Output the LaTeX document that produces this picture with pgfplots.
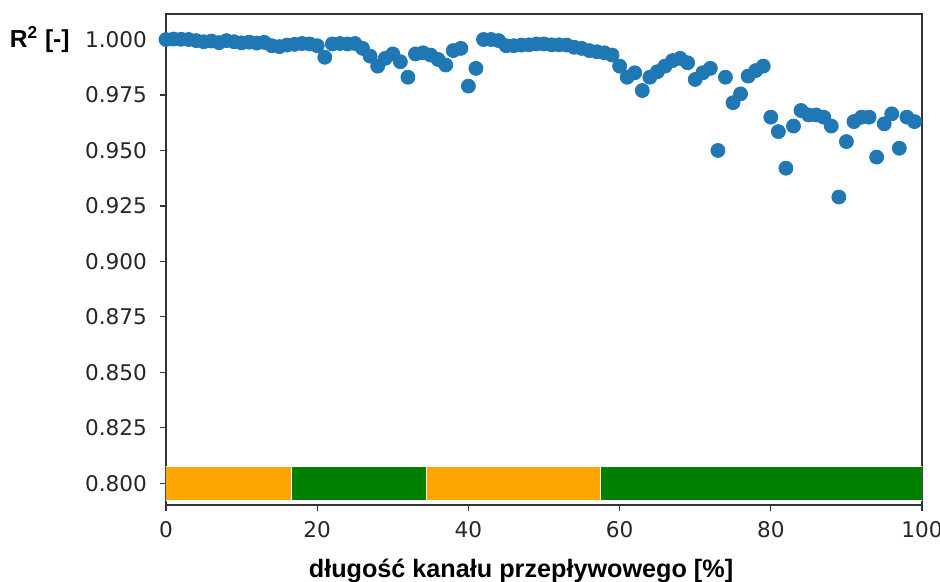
\documentclass[border=0pt]{standalone}
\usepackage{fontspec}
\setmainfont{DejaVu Sans}
\newfontfamily\labfont{Liberation Sans}
\usepackage{pgfplots}
\pgfplotsset{compat=1.18}
\usetikzlibrary{calc}
\definecolor{mblue}{HTML}{1F77B4}
\definecolor{morange}{HTML}{FFA500}
\definecolor{mgreen}{HTML}{008000}
\begin{document}
\begin{tikzpicture}
\begin{axis}[
  scale only axis,
  width=378pt, height=245.5pt,
  xmin=0, xmax=100,
  ymin=0.7902, ymax=1.0115,
  xtick={0,20,40,60,80,100},
  ytick={0.800,0.825,0.850,0.875,0.900,0.925,0.950,0.975,1.000},
  /pgf/number format/assume math mode=true,
  tick label style={font=\fontsize{10.8}{12}\selectfont, text=black!85},
  yticklabel style={xshift=-3pt, /pgf/number format/.cd, fixed, fixed zerofill, precision=3},
  xticklabel style={yshift=-1.5pt},
  tick align=outside,
  xtick pos=bottom, ytick pos=left,
  major tick length=3pt,
  tick style={black!80, line width=0.6pt},
  axis line style={black!80, line width=0.6pt},
  xlabel={\labfont\bfseries długość kanału przepływowego [\%]},
  xlabel style={font=\fontsize{12.6}{14}\selectfont, yshift=-4pt, xshift=-11.5pt},
  clip=true,
]
\addplot[fill=morange, draw=white, line width=0.5pt] coordinates {(0,0.7922) (16.6,0.7922) (16.6,0.8075) (0,0.8075)} -- cycle;
\addplot[fill=mgreen, draw=white, line width=0.5pt] coordinates {(16.6,0.7922) (34.5,0.7922) (34.5,0.8075) (16.6,0.8075)} -- cycle;
\addplot[fill=morange, draw=white, line width=0.5pt] coordinates {(34.5,0.7922) (57.5,0.7922) (57.5,0.8075) (34.5,0.8075)} -- cycle;
\addplot[fill=mgreen, draw=white, line width=0.5pt] coordinates {(57.5,0.7922) (100,0.7922) (100,0.8075) (57.5,0.8075)} -- cycle;
\addplot[only marks, mark=*, mark size=3.5pt, mark options={fill=mblue, draw=mblue}] table {
x y
0 1.0000
1 1.0002
2 1.0001
3 1.0000
4 0.9995
5 0.9990
6 0.9993
7 0.9986
8 0.9995
9 0.9990
10 0.9985
11 0.9988
12 0.9984
13 0.9987
14 0.9972
15 0.9968
16 0.9975
17 0.9978
18 0.9982
19 0.9980
20 0.9972
21 0.9920
22 0.9980
23 0.9982
24 0.9980
25 0.9982
26 0.9960
27 0.9925
28 0.9880
29 0.9915
30 0.9935
31 0.9900
32 0.9830
33 0.9935
34 0.9940
35 0.9930
36 0.9910
37 0.9885
38 0.9950
39 0.9960
40 0.9790
41 0.9870
42 1.0000
43 1.0000
44 0.9995
45 0.9972
46 0.9972
47 0.9975
48 0.9976
49 0.9980
50 0.9980
51 0.9976
52 0.9976
53 0.9975
54 0.9965
55 0.9960
56 0.9950
57 0.9945
58 0.9940
59 0.9930
60 0.9880
61 0.9830
62 0.9850
63 0.9770
64 0.9830
65 0.9855
66 0.9880
67 0.9905
68 0.9915
69 0.9895
70 0.9820
71 0.9850
72 0.9870
73 0.9500
74 0.9830
75 0.9715
76 0.9755
77 0.9835
78 0.9860
79 0.9880
80 0.9650
81 0.9585
82 0.9420
83 0.9610
84 0.9680
85 0.9660
86 0.9660
87 0.9650
88 0.9610
89 0.9290
90 0.9540
91 0.9630
92 0.9650
93 0.9650
94 0.9470
95 0.9620
96 0.9665
97 0.9510
98 0.9650
99 0.9630
};
\coordinate (topref) at (axis cs:0,1.0);
\end{axis}
\node[anchor=east, font=\labfont\bfseries\fontsize{12.3}{14}\selectfont, inner sep=0pt] at ($(topref)+(-48pt,0)$) {R\textsuperscript{2} [-]};
\pgfresetboundingbox
\path ($(current axis.south west)+(-83pt,-38.5pt)$) rectangle ($(current axis.north east)+(9pt,7pt)$);
\end{tikzpicture}
\end{document}
